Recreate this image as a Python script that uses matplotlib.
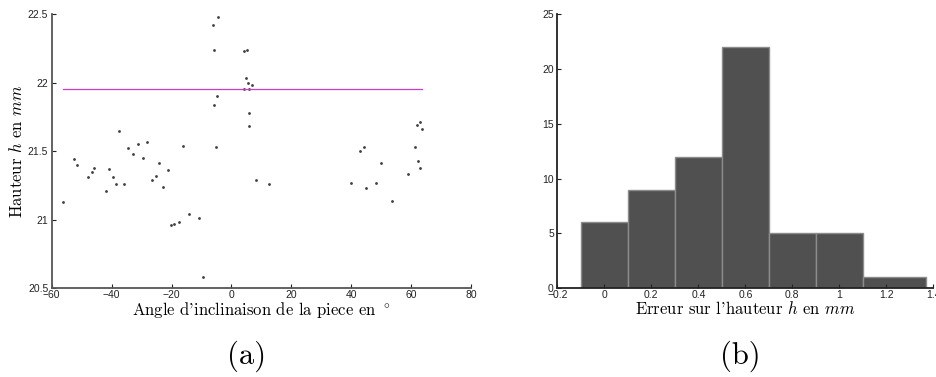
import numpy as np
import matplotlib
matplotlib.use("Agg")
import matplotlib.pyplot as plt

plt.rcParams['mathtext.fontset'] = 'cm'
plt.rcParams['font.family'] = 'Liberation Sans'
plt.rcParams['axes.unicode_minus'] = True

# (a) hauteur mesuree en fonction de l'angle
angles = [-52.6, -51.5, -47.8, -46.6, -46.0, -41.8, -41.0, -39.5, -38.6, -37.6,
          -36.0, -34.5, -33.0, -31.3, -29.6, -28.2, -26.4, -25.2, -24.1, -22.8,
          -21.3, -16.2, -6.2, -4.5, -5.7, -5.9, -4.8, -5.2, 4.3, 5.2,
          4.9, 5.5, 7.0, 4.1, 6.0, 5.9, 6.0, 8.2, 12.5, 39.9,
          42.9, 44.2, 44.9, 48.3, 49.9, 53.5, 59.0, 61.3, 61.9, 63.1,
          63.7, 62.4, 63.1, -56.1, -20.2, -19.1, -17.6, -14.1, -10.8, -9.5]
hauteurs = [21.44, 21.40, 21.31, 21.35, 21.38, 21.21, 21.37, 21.31, 21.26, 21.65,
            21.26, 21.52, 21.48, 21.55, 21.45, 21.57, 21.29, 21.32, 21.41, 21.24,
            21.36, 21.54, 22.42, 22.48, 22.24, 21.84, 21.90, 21.53, 22.23, 22.24,
            22.03, 22.00, 21.98, 21.95, 21.95, 21.78, 21.68, 21.29, 21.26, 21.27,
            21.50, 21.53, 21.23, 21.27, 21.41, 21.14, 21.33, 21.53, 21.69, 21.71,
            21.66, 21.43, 21.38, 21.13, 20.96, 20.97, 20.98, 21.04, 21.01, 20.58]
h_ref = 21.95

# (b) histogramme de l'erreur
bin_edges = [-0.1, 0.1, 0.3, 0.5, 0.7, 0.9, 1.1, 1.37]
counts = [6, 9, 12, 22, 5, 5, 1]

xticks_a = [-60, -40, -20, 0, 20, 40, 60, 80]
yticks_a = [20.5, 21, 21.5, 22, 22.5]
yticklabels_a = ['20.5', '21', '21.5', '22', '22.5']
xticks_b = [-0.2, 0, 0.2, 0.4, 0.6, 0.8, 1, 1.2, 1.4]
xticklabels_b = ['\u22120.2', '0', '0.2', '0.4', '0.6', '0.8', '1', '1.2', '1.4']
yticks_b = [0, 5, 10, 15, 20, 25]

fig = plt.figure(figsize=(9.37, 3.77), dpi=100)
ax1 = fig.add_axes([0.0552, 0.2353, 0.4475, 0.7276])
ax2 = fig.add_axes([0.5948, 0.2353, 0.4013, 0.7276])

ax1.plot(angles, hauteurs, ls='none', marker='.', ms=2.0, color='#404040')
ax1.plot([min(angles), max(angles)], [h_ref, h_ref], color='#c83cc8', lw=0.9)
ax1.set_xlim(-60, 80)
ax1.set_ylim(20.5, 22.5)
ax1.set_xticks(xticks_a)
ax1.set_xticklabels(['\u221260', '\u221240', '\u221220', '0', '20', '40', '60', '80'])
ax1.set_yticks(yticks_a)
ax1.set_yticklabels(yticklabels_a)
ax1.set_xlabel("Angle d'inclinaison de la piece en $^\\circ$", fontfamily='cmr10', fontsize=12, labelpad=0)
ax1.set_ylabel("Hauteur $h$ en $mm$", fontfamily='cmr10', fontsize=12, labelpad=2)

widths = np.diff(bin_edges)
ax2.bar(bin_edges[:-1], counts, width=widths, align='edge',
        facecolor='#505050', edgecolor='#8c8c8c', lw=1)
ax2.set_xlim(-0.2, 1.4)
ax2.set_ylim(0, 25)
ax2.set_xticks(xticks_b)
ax2.set_xticklabels(xticklabels_b)
ax2.set_yticks(yticks_b)
ax2.set_xlabel("Erreur sur l'hauteur $h$ en $mm$", fontfamily='cmr10', fontsize=12, labelpad=0)

for ax, col in [(ax1, '#555555'), (ax2, '#222222')]:
    ax.spines['top'].set_visible(False)
    ax.spines['right'].set_visible(False)
    ax.spines['left'].set_color(col)
    ax.spines['bottom'].set_color(col)
    ax.spines['left'].set_linewidth(1.3)
    ax.spines['bottom'].set_linewidth(1.3)
    ax.tick_params(direction='in', length=3, width=0.8, labelsize=7.5, colors='#222222')
    ax.tick_params(axis='x', pad=1.5)
    ax.tick_params(axis='y', pad=2.5)
    ax.set_facecolor('white')

fig.text(0.263, 0.055, "(a)", fontfamily='cmr10', fontsize=22, ha='center', va='center')
fig.text(0.79, 0.055, "(b)", fontfamily='cmr10', fontsize=22, ha='center', va='center')

fig.savefig("out.png", dpi=100)
